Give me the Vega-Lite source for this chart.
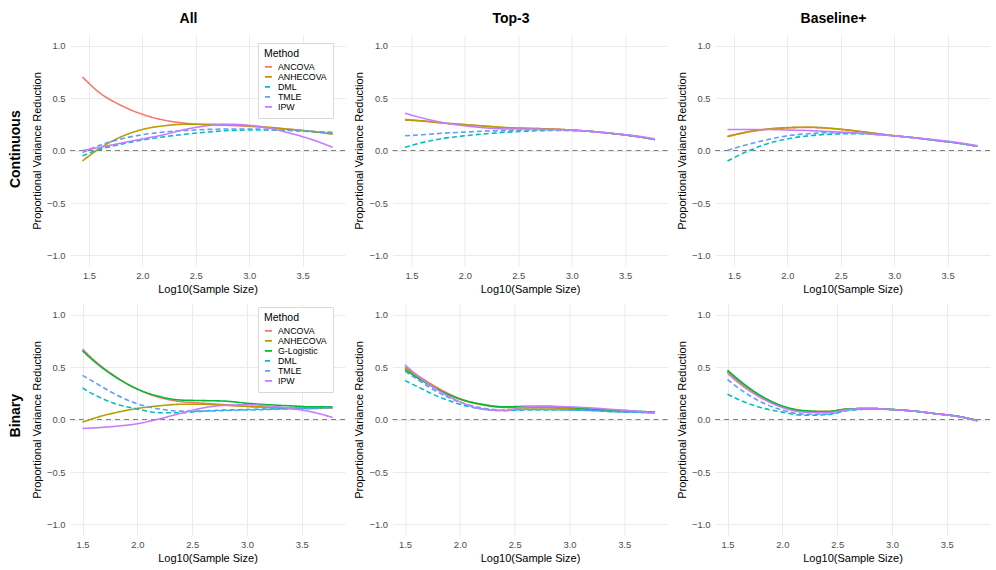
{
  "$schema": "https://vega.github.io/schema/vega-lite/v6.json",
  "padding": {"left": 9, "right": 5, "top": 12, "bottom": 4},
  "background": "white",
  "config": {
    "font": "Liberation Sans",
    "view": {"stroke": null},
    "axis": {"domain": false, "ticks": false, "grid": true, "gridColor": "#EBEBEB", "gridWidth": 1, "labelFont": "Liberation Sans", "labelFontSize": 9.4, "labelColor": "#4D4D4D", "labelPadding": 5, "titleFont": "Liberation Sans", "titleFontSize": 11, "titleFontWeight": "normal", "titleColor": "#000000", "titlePadding": 4},
    "legend": {"titleFont": "Liberation Sans", "titleFontSize": 10.5, "titleFontWeight": "normal", "titleColor": "#000000", "labelFont": "Liberation Sans", "labelFontSize": 8.8, "labelColor": "#000000", "symbolType": "stroke", "symbolSize": 49, "symbolStrokeWidth": 1.6, "fillColor": "#FFFFFF", "strokeColor": "#D9D9D9", "padding": 6, "rowPadding": 0, "clipHeight": 8.7, "labelOffset": 5, "titlePadding": 3},
    "title": {"font": "Liberation Sans", "fontSize": 14, "fontWeight": "bold", "color": "#000000", "anchor": "middle", "frame": "bounds", "offset": 9}
  },
  "datasets": {
    "cont_all": [
      {"Method": "ANCOVA", "x": 1.44, "y": 0.70}, {"Method": "ANCOVA", "x": 1.6, "y": 0.55}, {"Method": "ANCOVA", "x": 1.8, "y": 0.43}, {"Method": "ANCOVA", "x": 2.0, "y": 0.345}, {"Method": "ANCOVA", "x": 2.2, "y": 0.29}, {"Method": "ANCOVA", "x": 2.4, "y": 0.26}, {"Method": "ANCOVA", "x": 2.6, "y": 0.245}, {"Method": "ANCOVA", "x": 2.8, "y": 0.24}, {"Method": "ANCOVA", "x": 3.0, "y": 0.23}, {"Method": "ANCOVA", "x": 3.2, "y": 0.215}, {"Method": "ANCOVA", "x": 3.4, "y": 0.20}, {"Method": "ANCOVA", "x": 3.6, "y": 0.18}, {"Method": "ANCOVA", "x": 3.78, "y": 0.16},
      {"Method": "ANHECOVA", "x": 1.44, "y": -0.10}, {"Method": "ANHECOVA", "x": 1.6, "y": 0.02}, {"Method": "ANHECOVA", "x": 1.8, "y": 0.13}, {"Method": "ANHECOVA", "x": 2.0, "y": 0.20}, {"Method": "ANHECOVA", "x": 2.2, "y": 0.235}, {"Method": "ANHECOVA", "x": 2.4, "y": 0.25}, {"Method": "ANHECOVA", "x": 2.6, "y": 0.25}, {"Method": "ANHECOVA", "x": 2.8, "y": 0.245}, {"Method": "ANHECOVA", "x": 3.0, "y": 0.235}, {"Method": "ANHECOVA", "x": 3.2, "y": 0.22}, {"Method": "ANHECOVA", "x": 3.4, "y": 0.20}, {"Method": "ANHECOVA", "x": 3.6, "y": 0.18}, {"Method": "ANHECOVA", "x": 3.78, "y": 0.155},
      {"Method": "DML", "x": 1.44, "y": -0.05}, {"Method": "DML", "x": 1.6, "y": 0.01}, {"Method": "DML", "x": 1.8, "y": 0.06}, {"Method": "DML", "x": 2.0, "y": 0.10}, {"Method": "DML", "x": 2.2, "y": 0.13}, {"Method": "DML", "x": 2.4, "y": 0.155}, {"Method": "DML", "x": 2.6, "y": 0.175}, {"Method": "DML", "x": 2.8, "y": 0.19}, {"Method": "DML", "x": 3.0, "y": 0.195}, {"Method": "DML", "x": 3.2, "y": 0.195}, {"Method": "DML", "x": 3.4, "y": 0.19}, {"Method": "DML", "x": 3.6, "y": 0.18}, {"Method": "DML", "x": 3.78, "y": 0.17},
      {"Method": "TMLE", "x": 1.44, "y": -0.02}, {"Method": "TMLE", "x": 1.6, "y": 0.05}, {"Method": "TMLE", "x": 1.8, "y": 0.11}, {"Method": "TMLE", "x": 2.0, "y": 0.15}, {"Method": "TMLE", "x": 2.2, "y": 0.175}, {"Method": "TMLE", "x": 2.4, "y": 0.19}, {"Method": "TMLE", "x": 2.6, "y": 0.20}, {"Method": "TMLE", "x": 2.8, "y": 0.205}, {"Method": "TMLE", "x": 3.0, "y": 0.205}, {"Method": "TMLE", "x": 3.2, "y": 0.20}, {"Method": "TMLE", "x": 3.4, "y": 0.19}, {"Method": "TMLE", "x": 3.6, "y": 0.18}, {"Method": "TMLE", "x": 3.78, "y": 0.17},
      {"Method": "IPW", "x": 1.44, "y": 0.0}, {"Method": "IPW", "x": 1.6, "y": 0.03}, {"Method": "IPW", "x": 1.8, "y": 0.07}, {"Method": "IPW", "x": 2.0, "y": 0.11}, {"Method": "IPW", "x": 2.2, "y": 0.15}, {"Method": "IPW", "x": 2.4, "y": 0.20}, {"Method": "IPW", "x": 2.6, "y": 0.235}, {"Method": "IPW", "x": 2.8, "y": 0.25}, {"Method": "IPW", "x": 3.0, "y": 0.24}, {"Method": "IPW", "x": 3.2, "y": 0.21}, {"Method": "IPW", "x": 3.4, "y": 0.16}, {"Method": "IPW", "x": 3.6, "y": 0.10}, {"Method": "IPW", "x": 3.78, "y": 0.03}
    ],
    "cont_top3": [
      {"Method": "ANCOVA", "x": 1.44, "y": 0.29}, {"Method": "ANCOVA", "x": 1.6, "y": 0.28}, {"Method": "ANCOVA", "x": 1.8, "y": 0.26}, {"Method": "ANCOVA", "x": 2.0, "y": 0.245}, {"Method": "ANCOVA", "x": 2.2, "y": 0.23}, {"Method": "ANCOVA", "x": 2.4, "y": 0.215}, {"Method": "ANCOVA", "x": 2.6, "y": 0.21}, {"Method": "ANCOVA", "x": 2.8, "y": 0.205}, {"Method": "ANCOVA", "x": 3.0, "y": 0.195}, {"Method": "ANCOVA", "x": 3.2, "y": 0.18}, {"Method": "ANCOVA", "x": 3.4, "y": 0.16}, {"Method": "ANCOVA", "x": 3.6, "y": 0.135}, {"Method": "ANCOVA", "x": 3.78, "y": 0.105},
      {"Method": "ANHECOVA", "x": 1.44, "y": 0.295}, {"Method": "ANHECOVA", "x": 1.6, "y": 0.283}, {"Method": "ANHECOVA", "x": 1.8, "y": 0.263}, {"Method": "ANHECOVA", "x": 2.0, "y": 0.247}, {"Method": "ANHECOVA", "x": 2.2, "y": 0.232}, {"Method": "ANHECOVA", "x": 2.4, "y": 0.218}, {"Method": "ANHECOVA", "x": 2.6, "y": 0.211}, {"Method": "ANHECOVA", "x": 2.8, "y": 0.205}, {"Method": "ANHECOVA", "x": 3.0, "y": 0.195}, {"Method": "ANHECOVA", "x": 3.2, "y": 0.18}, {"Method": "ANHECOVA", "x": 3.4, "y": 0.16}, {"Method": "ANHECOVA", "x": 3.6, "y": 0.134}, {"Method": "ANHECOVA", "x": 3.78, "y": 0.103},
      {"Method": "DML", "x": 1.44, "y": 0.03}, {"Method": "DML", "x": 1.6, "y": 0.075}, {"Method": "DML", "x": 1.8, "y": 0.115}, {"Method": "DML", "x": 2.0, "y": 0.14}, {"Method": "DML", "x": 2.2, "y": 0.16}, {"Method": "DML", "x": 2.4, "y": 0.175}, {"Method": "DML", "x": 2.6, "y": 0.185}, {"Method": "DML", "x": 2.8, "y": 0.19}, {"Method": "DML", "x": 3.0, "y": 0.19}, {"Method": "DML", "x": 3.2, "y": 0.18}, {"Method": "DML", "x": 3.4, "y": 0.16}, {"Method": "DML", "x": 3.6, "y": 0.135}, {"Method": "DML", "x": 3.78, "y": 0.105},
      {"Method": "TMLE", "x": 1.44, "y": 0.14}, {"Method": "TMLE", "x": 1.6, "y": 0.15}, {"Method": "TMLE", "x": 1.8, "y": 0.165}, {"Method": "TMLE", "x": 2.0, "y": 0.175}, {"Method": "TMLE", "x": 2.2, "y": 0.185}, {"Method": "TMLE", "x": 2.4, "y": 0.19}, {"Method": "TMLE", "x": 2.6, "y": 0.195}, {"Method": "TMLE", "x": 2.8, "y": 0.195}, {"Method": "TMLE", "x": 3.0, "y": 0.19}, {"Method": "TMLE", "x": 3.2, "y": 0.18}, {"Method": "TMLE", "x": 3.4, "y": 0.16}, {"Method": "TMLE", "x": 3.6, "y": 0.135}, {"Method": "TMLE", "x": 3.78, "y": 0.105},
      {"Method": "IPW", "x": 1.44, "y": 0.355}, {"Method": "IPW", "x": 1.6, "y": 0.31}, {"Method": "IPW", "x": 1.8, "y": 0.265}, {"Method": "IPW", "x": 2.0, "y": 0.235}, {"Method": "IPW", "x": 2.2, "y": 0.215}, {"Method": "IPW", "x": 2.4, "y": 0.205}, {"Method": "IPW", "x": 2.6, "y": 0.205}, {"Method": "IPW", "x": 2.8, "y": 0.20}, {"Method": "IPW", "x": 3.0, "y": 0.195}, {"Method": "IPW", "x": 3.2, "y": 0.18}, {"Method": "IPW", "x": 3.4, "y": 0.16}, {"Method": "IPW", "x": 3.6, "y": 0.14}, {"Method": "IPW", "x": 3.78, "y": 0.11}
    ],
    "cont_base": [
      {"Method": "ANCOVA", "x": 1.44, "y": 0.13}, {"Method": "ANCOVA", "x": 1.6, "y": 0.17}, {"Method": "ANCOVA", "x": 1.8, "y": 0.20}, {"Method": "ANCOVA", "x": 2.0, "y": 0.215}, {"Method": "ANCOVA", "x": 2.2, "y": 0.22}, {"Method": "ANCOVA", "x": 2.4, "y": 0.21}, {"Method": "ANCOVA", "x": 2.6, "y": 0.19}, {"Method": "ANCOVA", "x": 2.8, "y": 0.165}, {"Method": "ANCOVA", "x": 3.0, "y": 0.14}, {"Method": "ANCOVA", "x": 3.2, "y": 0.12}, {"Method": "ANCOVA", "x": 3.4, "y": 0.095}, {"Method": "ANCOVA", "x": 3.6, "y": 0.07}, {"Method": "ANCOVA", "x": 3.78, "y": 0.04},
      {"Method": "ANHECOVA", "x": 1.44, "y": 0.135}, {"Method": "ANHECOVA", "x": 1.6, "y": 0.172}, {"Method": "ANHECOVA", "x": 1.8, "y": 0.203}, {"Method": "ANHECOVA", "x": 2.0, "y": 0.218}, {"Method": "ANHECOVA", "x": 2.2, "y": 0.222}, {"Method": "ANHECOVA", "x": 2.4, "y": 0.212}, {"Method": "ANHECOVA", "x": 2.6, "y": 0.192}, {"Method": "ANHECOVA", "x": 2.8, "y": 0.166}, {"Method": "ANHECOVA", "x": 3.0, "y": 0.141}, {"Method": "ANHECOVA", "x": 3.2, "y": 0.12}, {"Method": "ANHECOVA", "x": 3.4, "y": 0.095}, {"Method": "ANHECOVA", "x": 3.6, "y": 0.07}, {"Method": "ANHECOVA", "x": 3.78, "y": 0.04},
      {"Method": "DML", "x": 1.44, "y": -0.10}, {"Method": "DML", "x": 1.6, "y": -0.02}, {"Method": "DML", "x": 1.8, "y": 0.06}, {"Method": "DML", "x": 2.0, "y": 0.11}, {"Method": "DML", "x": 2.2, "y": 0.14}, {"Method": "DML", "x": 2.4, "y": 0.155}, {"Method": "DML", "x": 2.6, "y": 0.16}, {"Method": "DML", "x": 2.8, "y": 0.155}, {"Method": "DML", "x": 3.0, "y": 0.14}, {"Method": "DML", "x": 3.2, "y": 0.12}, {"Method": "DML", "x": 3.4, "y": 0.095}, {"Method": "DML", "x": 3.6, "y": 0.07}, {"Method": "DML", "x": 3.78, "y": 0.04},
      {"Method": "TMLE", "x": 1.44, "y": 0.0}, {"Method": "TMLE", "x": 1.6, "y": 0.05}, {"Method": "TMLE", "x": 1.8, "y": 0.10}, {"Method": "TMLE", "x": 2.0, "y": 0.14}, {"Method": "TMLE", "x": 2.2, "y": 0.16}, {"Method": "TMLE", "x": 2.4, "y": 0.17}, {"Method": "TMLE", "x": 2.6, "y": 0.17}, {"Method": "TMLE", "x": 2.8, "y": 0.16}, {"Method": "TMLE", "x": 3.0, "y": 0.14}, {"Method": "TMLE", "x": 3.2, "y": 0.12}, {"Method": "TMLE", "x": 3.4, "y": 0.095}, {"Method": "TMLE", "x": 3.6, "y": 0.07}, {"Method": "TMLE", "x": 3.78, "y": 0.04},
      {"Method": "IPW", "x": 1.44, "y": 0.20}, {"Method": "IPW", "x": 1.6, "y": 0.20}, {"Method": "IPW", "x": 1.8, "y": 0.20}, {"Method": "IPW", "x": 2.0, "y": 0.195}, {"Method": "IPW", "x": 2.2, "y": 0.19}, {"Method": "IPW", "x": 2.4, "y": 0.18}, {"Method": "IPW", "x": 2.6, "y": 0.17}, {"Method": "IPW", "x": 2.8, "y": 0.155}, {"Method": "IPW", "x": 3.0, "y": 0.14}, {"Method": "IPW", "x": 3.2, "y": 0.12}, {"Method": "IPW", "x": 3.4, "y": 0.10}, {"Method": "IPW", "x": 3.6, "y": 0.075}, {"Method": "IPW", "x": 3.78, "y": 0.045}
    ],
    "bin_all": [
      {"Method": "ANCOVA", "x": 1.5, "y": 0.67}, {"Method": "ANCOVA", "x": 1.6, "y": 0.57}, {"Method": "ANCOVA", "x": 1.8, "y": 0.41}, {"Method": "ANCOVA", "x": 2.0, "y": 0.29}, {"Method": "ANCOVA", "x": 2.2, "y": 0.21}, {"Method": "ANCOVA", "x": 2.4, "y": 0.17}, {"Method": "ANCOVA", "x": 2.6, "y": 0.155}, {"Method": "ANCOVA", "x": 2.8, "y": 0.14}, {"Method": "ANCOVA", "x": 3.0, "y": 0.125}, {"Method": "ANCOVA", "x": 3.2, "y": 0.115}, {"Method": "ANCOVA", "x": 3.4, "y": 0.11}, {"Method": "ANCOVA", "x": 3.6, "y": 0.11}, {"Method": "ANCOVA", "x": 3.78, "y": 0.11},
      {"Method": "ANHECOVA", "x": 1.5, "y": -0.025}, {"Method": "ANHECOVA", "x": 1.6, "y": 0.01}, {"Method": "ANHECOVA", "x": 1.8, "y": 0.065}, {"Method": "ANHECOVA", "x": 2.0, "y": 0.105}, {"Method": "ANHECOVA", "x": 2.2, "y": 0.13}, {"Method": "ANHECOVA", "x": 2.4, "y": 0.145}, {"Method": "ANHECOVA", "x": 2.6, "y": 0.145}, {"Method": "ANHECOVA", "x": 2.8, "y": 0.135}, {"Method": "ANHECOVA", "x": 3.0, "y": 0.125}, {"Method": "ANHECOVA", "x": 3.2, "y": 0.115}, {"Method": "ANHECOVA", "x": 3.4, "y": 0.105}, {"Method": "ANHECOVA", "x": 3.6, "y": 0.105}, {"Method": "ANHECOVA", "x": 3.78, "y": 0.115},
      {"Method": "G-Logistic", "x": 1.5, "y": 0.655}, {"Method": "G-Logistic", "x": 1.6, "y": 0.56}, {"Method": "G-Logistic", "x": 1.8, "y": 0.405}, {"Method": "G-Logistic", "x": 2.0, "y": 0.29}, {"Method": "G-Logistic", "x": 2.2, "y": 0.22}, {"Method": "G-Logistic", "x": 2.4, "y": 0.185}, {"Method": "G-Logistic", "x": 2.6, "y": 0.18}, {"Method": "G-Logistic", "x": 2.8, "y": 0.175}, {"Method": "G-Logistic", "x": 3.0, "y": 0.155}, {"Method": "G-Logistic", "x": 3.2, "y": 0.14}, {"Method": "G-Logistic", "x": 3.4, "y": 0.13}, {"Method": "G-Logistic", "x": 3.6, "y": 0.12}, {"Method": "G-Logistic", "x": 3.78, "y": 0.12},
      {"Method": "DML", "x": 1.5, "y": 0.30}, {"Method": "DML", "x": 1.6, "y": 0.24}, {"Method": "DML", "x": 1.8, "y": 0.15}, {"Method": "DML", "x": 2.0, "y": 0.10}, {"Method": "DML", "x": 2.2, "y": 0.065}, {"Method": "DML", "x": 2.4, "y": 0.065}, {"Method": "DML", "x": 2.6, "y": 0.08}, {"Method": "DML", "x": 2.8, "y": 0.09}, {"Method": "DML", "x": 3.0, "y": 0.095}, {"Method": "DML", "x": 3.2, "y": 0.10}, {"Method": "DML", "x": 3.4, "y": 0.105}, {"Method": "DML", "x": 3.6, "y": 0.11}, {"Method": "DML", "x": 3.78, "y": 0.12},
      {"Method": "TMLE", "x": 1.5, "y": 0.42}, {"Method": "TMLE", "x": 1.6, "y": 0.36}, {"Method": "TMLE", "x": 1.8, "y": 0.24}, {"Method": "TMLE", "x": 2.0, "y": 0.15}, {"Method": "TMLE", "x": 2.2, "y": 0.10}, {"Method": "TMLE", "x": 2.4, "y": 0.08}, {"Method": "TMLE", "x": 2.6, "y": 0.08}, {"Method": "TMLE", "x": 2.8, "y": 0.085}, {"Method": "TMLE", "x": 3.0, "y": 0.09}, {"Method": "TMLE", "x": 3.2, "y": 0.095}, {"Method": "TMLE", "x": 3.4, "y": 0.10}, {"Method": "TMLE", "x": 3.6, "y": 0.105}, {"Method": "TMLE", "x": 3.78, "y": 0.11},
      {"Method": "IPW", "x": 1.5, "y": -0.085}, {"Method": "IPW", "x": 1.6, "y": -0.08}, {"Method": "IPW", "x": 1.8, "y": -0.065}, {"Method": "IPW", "x": 2.0, "y": -0.04}, {"Method": "IPW", "x": 2.2, "y": 0.005}, {"Method": "IPW", "x": 2.4, "y": 0.06}, {"Method": "IPW", "x": 2.6, "y": 0.11}, {"Method": "IPW", "x": 2.8, "y": 0.135}, {"Method": "IPW", "x": 3.0, "y": 0.14}, {"Method": "IPW", "x": 3.2, "y": 0.13}, {"Method": "IPW", "x": 3.4, "y": 0.105}, {"Method": "IPW", "x": 3.6, "y": 0.07}, {"Method": "IPW", "x": 3.78, "y": 0.02}
    ],
    "bin_top3": [
      {"Method": "ANCOVA", "x": 1.5, "y": 0.50}, {"Method": "ANCOVA", "x": 1.6, "y": 0.43}, {"Method": "ANCOVA", "x": 1.8, "y": 0.30}, {"Method": "ANCOVA", "x": 2.0, "y": 0.20}, {"Method": "ANCOVA", "x": 2.2, "y": 0.145}, {"Method": "ANCOVA", "x": 2.4, "y": 0.12}, {"Method": "ANCOVA", "x": 2.6, "y": 0.115}, {"Method": "ANCOVA", "x": 2.8, "y": 0.115}, {"Method": "ANCOVA", "x": 3.0, "y": 0.105}, {"Method": "ANCOVA", "x": 3.2, "y": 0.095}, {"Method": "ANCOVA", "x": 3.4, "y": 0.085}, {"Method": "ANCOVA", "x": 3.6, "y": 0.075}, {"Method": "ANCOVA", "x": 3.78, "y": 0.065},
      {"Method": "ANHECOVA", "x": 1.5, "y": 0.49}, {"Method": "ANHECOVA", "x": 1.6, "y": 0.42}, {"Method": "ANHECOVA", "x": 1.8, "y": 0.29}, {"Method": "ANHECOVA", "x": 2.0, "y": 0.195}, {"Method": "ANHECOVA", "x": 2.2, "y": 0.14}, {"Method": "ANHECOVA", "x": 2.4, "y": 0.115}, {"Method": "ANHECOVA", "x": 2.6, "y": 0.11}, {"Method": "ANHECOVA", "x": 2.8, "y": 0.11}, {"Method": "ANHECOVA", "x": 3.0, "y": 0.10}, {"Method": "ANHECOVA", "x": 3.2, "y": 0.09}, {"Method": "ANHECOVA", "x": 3.4, "y": 0.08}, {"Method": "ANHECOVA", "x": 3.6, "y": 0.07}, {"Method": "ANHECOVA", "x": 3.78, "y": 0.065},
      {"Method": "G-Logistic", "x": 1.5, "y": 0.475}, {"Method": "G-Logistic", "x": 1.6, "y": 0.405}, {"Method": "G-Logistic", "x": 1.8, "y": 0.285}, {"Method": "G-Logistic", "x": 2.0, "y": 0.195}, {"Method": "G-Logistic", "x": 2.2, "y": 0.145}, {"Method": "G-Logistic", "x": 2.4, "y": 0.12}, {"Method": "G-Logistic", "x": 2.6, "y": 0.125}, {"Method": "G-Logistic", "x": 2.8, "y": 0.125}, {"Method": "G-Logistic", "x": 3.0, "y": 0.115}, {"Method": "G-Logistic", "x": 3.2, "y": 0.10}, {"Method": "G-Logistic", "x": 3.4, "y": 0.09}, {"Method": "G-Logistic", "x": 3.6, "y": 0.08}, {"Method": "G-Logistic", "x": 3.78, "y": 0.07},
      {"Method": "DML", "x": 1.5, "y": 0.37}, {"Method": "DML", "x": 1.6, "y": 0.32}, {"Method": "DML", "x": 1.8, "y": 0.22}, {"Method": "DML", "x": 2.0, "y": 0.145}, {"Method": "DML", "x": 2.2, "y": 0.10}, {"Method": "DML", "x": 2.4, "y": 0.085}, {"Method": "DML", "x": 2.6, "y": 0.09}, {"Method": "DML", "x": 2.8, "y": 0.09}, {"Method": "DML", "x": 3.0, "y": 0.09}, {"Method": "DML", "x": 3.2, "y": 0.085}, {"Method": "DML", "x": 3.4, "y": 0.075}, {"Method": "DML", "x": 3.6, "y": 0.07}, {"Method": "DML", "x": 3.78, "y": 0.065},
      {"Method": "TMLE", "x": 1.5, "y": 0.46}, {"Method": "TMLE", "x": 1.6, "y": 0.39}, {"Method": "TMLE", "x": 1.8, "y": 0.26}, {"Method": "TMLE", "x": 2.0, "y": 0.165}, {"Method": "TMLE", "x": 2.2, "y": 0.11}, {"Method": "TMLE", "x": 2.4, "y": 0.09}, {"Method": "TMLE", "x": 2.6, "y": 0.095}, {"Method": "TMLE", "x": 2.8, "y": 0.095}, {"Method": "TMLE", "x": 3.0, "y": 0.09}, {"Method": "TMLE", "x": 3.2, "y": 0.085}, {"Method": "TMLE", "x": 3.4, "y": 0.075}, {"Method": "TMLE", "x": 3.6, "y": 0.07}, {"Method": "TMLE", "x": 3.78, "y": 0.065},
      {"Method": "IPW", "x": 1.5, "y": 0.52}, {"Method": "IPW", "x": 1.6, "y": 0.43}, {"Method": "IPW", "x": 1.8, "y": 0.28}, {"Method": "IPW", "x": 2.0, "y": 0.17}, {"Method": "IPW", "x": 2.2, "y": 0.10}, {"Method": "IPW", "x": 2.4, "y": 0.085}, {"Method": "IPW", "x": 2.6, "y": 0.12}, {"Method": "IPW", "x": 2.8, "y": 0.125}, {"Method": "IPW", "x": 3.0, "y": 0.12}, {"Method": "IPW", "x": 3.2, "y": 0.11}, {"Method": "IPW", "x": 3.4, "y": 0.095}, {"Method": "IPW", "x": 3.6, "y": 0.08}, {"Method": "IPW", "x": 3.78, "y": 0.06}
    ],
    "bin_base": [
      {"Method": "ANCOVA", "x": 1.5, "y": 0.46}, {"Method": "ANCOVA", "x": 1.6, "y": 0.37}, {"Method": "ANCOVA", "x": 1.8, "y": 0.225}, {"Method": "ANCOVA", "x": 2.0, "y": 0.125}, {"Method": "ANCOVA", "x": 2.2, "y": 0.08}, {"Method": "ANCOVA", "x": 2.4, "y": 0.075}, {"Method": "ANCOVA", "x": 2.6, "y": 0.10}, {"Method": "ANCOVA", "x": 2.8, "y": 0.105}, {"Method": "ANCOVA", "x": 3.0, "y": 0.095}, {"Method": "ANCOVA", "x": 3.2, "y": 0.08}, {"Method": "ANCOVA", "x": 3.4, "y": 0.055}, {"Method": "ANCOVA", "x": 3.6, "y": 0.03}, {"Method": "ANCOVA", "x": 3.78, "y": -0.01},
      {"Method": "ANHECOVA", "x": 1.5, "y": 0.455}, {"Method": "ANHECOVA", "x": 1.6, "y": 0.365}, {"Method": "ANHECOVA", "x": 1.8, "y": 0.22}, {"Method": "ANHECOVA", "x": 2.0, "y": 0.12}, {"Method": "ANHECOVA", "x": 2.2, "y": 0.08}, {"Method": "ANHECOVA", "x": 2.4, "y": 0.075}, {"Method": "ANHECOVA", "x": 2.6, "y": 0.10}, {"Method": "ANHECOVA", "x": 2.8, "y": 0.105}, {"Method": "ANHECOVA", "x": 3.0, "y": 0.095}, {"Method": "ANHECOVA", "x": 3.2, "y": 0.08}, {"Method": "ANHECOVA", "x": 3.4, "y": 0.055}, {"Method": "ANHECOVA", "x": 3.6, "y": 0.03}, {"Method": "ANHECOVA", "x": 3.78, "y": -0.01},
      {"Method": "G-Logistic", "x": 1.5, "y": 0.47}, {"Method": "G-Logistic", "x": 1.6, "y": 0.38}, {"Method": "G-Logistic", "x": 1.8, "y": 0.23}, {"Method": "G-Logistic", "x": 2.0, "y": 0.13}, {"Method": "G-Logistic", "x": 2.2, "y": 0.085}, {"Method": "G-Logistic", "x": 2.4, "y": 0.075}, {"Method": "G-Logistic", "x": 2.6, "y": 0.10}, {"Method": "G-Logistic", "x": 2.8, "y": 0.105}, {"Method": "G-Logistic", "x": 3.0, "y": 0.095}, {"Method": "G-Logistic", "x": 3.2, "y": 0.08}, {"Method": "G-Logistic", "x": 3.4, "y": 0.055}, {"Method": "G-Logistic", "x": 3.6, "y": 0.03}, {"Method": "G-Logistic", "x": 3.78, "y": -0.01},
      {"Method": "DML", "x": 1.5, "y": 0.24}, {"Method": "DML", "x": 1.6, "y": 0.19}, {"Method": "DML", "x": 1.8, "y": 0.115}, {"Method": "DML", "x": 2.0, "y": 0.07}, {"Method": "DML", "x": 2.2, "y": 0.04}, {"Method": "DML", "x": 2.4, "y": 0.045}, {"Method": "DML", "x": 2.6, "y": 0.085}, {"Method": "DML", "x": 2.8, "y": 0.10}, {"Method": "DML", "x": 3.0, "y": 0.095}, {"Method": "DML", "x": 3.2, "y": 0.08}, {"Method": "DML", "x": 3.4, "y": 0.055}, {"Method": "DML", "x": 3.6, "y": 0.03}, {"Method": "DML", "x": 3.78, "y": -0.01},
      {"Method": "TMLE", "x": 1.5, "y": 0.38}, {"Method": "TMLE", "x": 1.6, "y": 0.30}, {"Method": "TMLE", "x": 1.8, "y": 0.17}, {"Method": "TMLE", "x": 2.0, "y": 0.09}, {"Method": "TMLE", "x": 2.2, "y": 0.05}, {"Method": "TMLE", "x": 2.4, "y": 0.05}, {"Method": "TMLE", "x": 2.6, "y": 0.09}, {"Method": "TMLE", "x": 2.8, "y": 0.10}, {"Method": "TMLE", "x": 3.0, "y": 0.095}, {"Method": "TMLE", "x": 3.2, "y": 0.08}, {"Method": "TMLE", "x": 3.4, "y": 0.055}, {"Method": "TMLE", "x": 3.6, "y": 0.03}, {"Method": "TMLE", "x": 3.78, "y": -0.01},
      {"Method": "IPW", "x": 1.5, "y": 0.44}, {"Method": "IPW", "x": 1.6, "y": 0.35}, {"Method": "IPW", "x": 1.8, "y": 0.21}, {"Method": "IPW", "x": 2.0, "y": 0.115}, {"Method": "IPW", "x": 2.2, "y": 0.07}, {"Method": "IPW", "x": 2.4, "y": 0.065}, {"Method": "IPW", "x": 2.6, "y": 0.095}, {"Method": "IPW", "x": 2.8, "y": 0.105}, {"Method": "IPW", "x": 3.0, "y": 0.095}, {"Method": "IPW", "x": 3.2, "y": 0.08}, {"Method": "IPW", "x": 3.4, "y": 0.055}, {"Method": "IPW", "x": 3.6, "y": 0.03}, {"Method": "IPW", "x": 3.78, "y": -0.015}
    ]
  },
  "resolve": {"scale": {"x": "independent", "y": "independent", "color": "independent", "strokeDash": "independent"}, "legend": {"color": "independent", "strokeDash": "independent"}},
  "spacing": 9,
  "vconcat": [
    {
      "title": {"text": "Continuous", "orient": "left", "anchor": "middle", "frame": "bounds", "offset": 8, "dx": 4},
      "spacing": 7.5,
      "resolve": {"scale": {"color": "independent", "strokeDash": "independent"}, "legend": {"color": "independent", "strokeDash": "independent"}},
      "hconcat": [
        {
          "width": 275, "height": 231,
          "title": {"text": "All"},
          "layer": [
            {"data": {"values": [{}]}, "mark": {"type": "rule", "color": "#7F7F7F", "strokeDash": [5, 4], "strokeWidth": 1}, "encoding": {"y": {"datum": 0, "type": "quantitative", "scale": {"domain": [-1.1, 1.1], "nice": false}, "axis": {"title": "Proportional Variance Reduction", "values": [-1, -0.5, 0, 0.5, 1], "format": ".1f", "grid": true}}}},
            {"data": {"name": "cont_all"}, "mark": {"type": "line", "interpolate": "monotone", "strokeWidth": 1.6},
             "encoding": {
               "x": {"field": "x", "type": "quantitative", "scale": {"domain": [1.323, 3.897], "nice": false, "zero": false}, "axis": {"title": "Log10(Sample Size)", "values": [1.5, 2, 2.5, 3, 3.5], "format": ".1f", "grid": true}},
               "y": {"field": "y", "type": "quantitative", "scale": {"domain": [-1.1, 1.1], "nice": false}, "axis": {"title": "Proportional Variance Reduction", "values": [-1, -0.5, 0, 0.5, 1], "format": ".1f", "grid": true}},
               "color": {"field": "Method", "type": "nominal", "scale": {"domain": ["ANCOVA", "ANHECOVA", "DML", "TMLE", "IPW"], "range": ["#F8766D", "#B79F00", "#00BFC4", "#619CFF", "#C77CFF"]}, "legend": {"title": "Method", "orient": "none", "legendX": 188, "legendY": 8}},
               "strokeDash": {"field": "Method", "type": "nominal", "scale": {"domain": ["ANCOVA", "ANHECOVA", "DML", "TMLE", "IPW"], "range": [[1, 0], [1, 0], [5, 3], [5, 3], [1, 0]]}, "legend": {"title": "Method", "orient": "none", "legendX": 188, "legendY": 8}}
             }}
          ]
        },
        {
          "width": 275, "height": 231,
          "title": {"text": "Top-3"},
          "layer": [
            {"data": {"values": [{}]}, "mark": {"type": "rule", "color": "#7F7F7F", "strokeDash": [5, 4], "strokeWidth": 1}, "encoding": {"y": {"datum": 0, "type": "quantitative", "scale": {"domain": [-1.1, 1.1], "nice": false}, "axis": {"title": "Proportional Variance Reduction", "values": [-1, -0.5, 0, 0.5, 1], "format": ".1f", "grid": true}}}},
            {"data": {"name": "cont_top3"}, "mark": {"type": "line", "interpolate": "monotone", "strokeWidth": 1.6},
             "encoding": {
               "x": {"field": "x", "type": "quantitative", "scale": {"domain": [1.323, 3.897], "nice": false, "zero": false}, "axis": {"title": "Log10(Sample Size)", "values": [1.5, 2, 2.5, 3, 3.5], "format": ".1f", "grid": true}},
               "y": {"field": "y", "type": "quantitative", "scale": {"domain": [-1.1, 1.1], "nice": false}, "axis": {"title": "Proportional Variance Reduction", "values": [-1, -0.5, 0, 0.5, 1], "format": ".1f", "grid": true}},
               "color": {"field": "Method", "type": "nominal", "scale": {"domain": ["ANCOVA", "ANHECOVA", "DML", "TMLE", "IPW"], "range": ["#F8766D", "#B79F00", "#00BFC4", "#619CFF", "#C77CFF"]}, "legend": null},
               "strokeDash": {"field": "Method", "type": "nominal", "scale": {"domain": ["ANCOVA", "ANHECOVA", "DML", "TMLE", "IPW"], "range": [[1, 0], [1, 0], [5, 3], [5, 3], [1, 0]]}, "legend": null}
             }}
          ]
        },
        {
          "width": 275, "height": 231,
          "title": {"text": "Baseline+"},
          "layer": [
            {"data": {"values": [{}]}, "mark": {"type": "rule", "color": "#7F7F7F", "strokeDash": [5, 4], "strokeWidth": 1}, "encoding": {"y": {"datum": 0, "type": "quantitative", "scale": {"domain": [-1.1, 1.1], "nice": false}, "axis": {"title": "Proportional Variance Reduction", "values": [-1, -0.5, 0, 0.5, 1], "format": ".1f", "grid": true}}}},
            {"data": {"name": "cont_base"}, "mark": {"type": "line", "interpolate": "monotone", "strokeWidth": 1.6},
             "encoding": {
               "x": {"field": "x", "type": "quantitative", "scale": {"domain": [1.323, 3.897], "nice": false, "zero": false}, "axis": {"title": "Log10(Sample Size)", "values": [1.5, 2, 2.5, 3, 3.5], "format": ".1f", "grid": true}},
               "y": {"field": "y", "type": "quantitative", "scale": {"domain": [-1.1, 1.1], "nice": false}, "axis": {"title": "Proportional Variance Reduction", "values": [-1, -0.5, 0, 0.5, 1], "format": ".1f", "grid": true}},
               "color": {"field": "Method", "type": "nominal", "scale": {"domain": ["ANCOVA", "ANHECOVA", "DML", "TMLE", "IPW"], "range": ["#F8766D", "#B79F00", "#00BFC4", "#619CFF", "#C77CFF"]}, "legend": null},
               "strokeDash": {"field": "Method", "type": "nominal", "scale": {"domain": ["ANCOVA", "ANHECOVA", "DML", "TMLE", "IPW"], "range": [[1, 0], [1, 0], [5, 3], [5, 3], [1, 0]]}, "legend": null}
             }}
          ]
        }
      ]
    },
    {
      "title": {"text": "Binary", "orient": "left", "anchor": "middle", "frame": "bounds", "offset": 8, "dx": 18},
      "spacing": 7.5,
      "resolve": {"scale": {"color": "independent", "strokeDash": "independent"}, "legend": {"color": "independent", "strokeDash": "independent"}},
      "hconcat": [
        {
          "width": 275, "height": 231,
          "layer": [
            {"data": {"values": [{}]}, "mark": {"type": "rule", "color": "#7F7F7F", "strokeDash": [5, 4], "strokeWidth": 1}, "encoding": {"y": {"datum": 0, "type": "quantitative", "scale": {"domain": [-1.1, 1.1], "nice": false}, "axis": {"title": "Proportional Variance Reduction", "values": [-1, -0.5, 0, 0.5, 1], "format": ".1f", "grid": true}}}},
            {"data": {"name": "bin_all"}, "mark": {"type": "line", "interpolate": "monotone", "strokeWidth": 1.6},
             "encoding": {
               "x": {"field": "x", "type": "quantitative", "scale": {"domain": [1.386, 3.894], "nice": false, "zero": false}, "axis": {"title": "Log10(Sample Size)", "values": [1.5, 2, 2.5, 3, 3.5], "format": ".1f", "grid": true}},
               "y": {"field": "y", "type": "quantitative", "scale": {"domain": [-1.1, 1.1], "nice": false}, "axis": {"title": "Proportional Variance Reduction", "values": [-1, -0.5, 0, 0.5, 1], "format": ".1f", "grid": true}},
               "color": {"field": "Method", "type": "nominal", "scale": {"domain": ["ANCOVA", "ANHECOVA", "G-Logistic", "DML", "TMLE", "IPW"], "range": ["#F8766D", "#B79F00", "#00BA38", "#00BFC4", "#619CFF", "#C77CFF"]}, "legend": {"title": "Method", "orient": "none", "legendX": 188, "legendY": 3}},
               "strokeDash": {"field": "Method", "type": "nominal", "scale": {"domain": ["ANCOVA", "ANHECOVA", "G-Logistic", "DML", "TMLE", "IPW"], "range": [[1, 0], [1, 0], [1, 0], [5, 3], [5, 3], [1, 0]]}, "legend": {"title": "Method", "orient": "none", "legendX": 188, "legendY": 3}}
             }}
          ]
        },
        {
          "width": 275, "height": 231,
          "layer": [
            {"data": {"values": [{}]}, "mark": {"type": "rule", "color": "#7F7F7F", "strokeDash": [5, 4], "strokeWidth": 1}, "encoding": {"y": {"datum": 0, "type": "quantitative", "scale": {"domain": [-1.1, 1.1], "nice": false}, "axis": {"title": "Proportional Variance Reduction", "values": [-1, -0.5, 0, 0.5, 1], "format": ".1f", "grid": true}}}},
            {"data": {"name": "bin_top3"}, "mark": {"type": "line", "interpolate": "monotone", "strokeWidth": 1.6},
             "encoding": {
               "x": {"field": "x", "type": "quantitative", "scale": {"domain": [1.386, 3.894], "nice": false, "zero": false}, "axis": {"title": "Log10(Sample Size)", "values": [1.5, 2, 2.5, 3, 3.5], "format": ".1f", "grid": true}},
               "y": {"field": "y", "type": "quantitative", "scale": {"domain": [-1.1, 1.1], "nice": false}, "axis": {"title": "Proportional Variance Reduction", "values": [-1, -0.5, 0, 0.5, 1], "format": ".1f", "grid": true}},
               "color": {"field": "Method", "type": "nominal", "scale": {"domain": ["ANCOVA", "ANHECOVA", "G-Logistic", "DML", "TMLE", "IPW"], "range": ["#F8766D", "#B79F00", "#00BA38", "#00BFC4", "#619CFF", "#C77CFF"]}, "legend": null},
               "strokeDash": {"field": "Method", "type": "nominal", "scale": {"domain": ["ANCOVA", "ANHECOVA", "G-Logistic", "DML", "TMLE", "IPW"], "range": [[1, 0], [1, 0], [1, 0], [5, 3], [5, 3], [1, 0]]}, "legend": null}
             }}
          ]
        },
        {
          "width": 275, "height": 231,
          "layer": [
            {"data": {"values": [{}]}, "mark": {"type": "rule", "color": "#7F7F7F", "strokeDash": [5, 4], "strokeWidth": 1}, "encoding": {"y": {"datum": 0, "type": "quantitative", "scale": {"domain": [-1.1, 1.1], "nice": false}, "axis": {"title": "Proportional Variance Reduction", "values": [-1, -0.5, 0, 0.5, 1], "format": ".1f", "grid": true}}}},
            {"data": {"name": "bin_base"}, "mark": {"type": "line", "interpolate": "monotone", "strokeWidth": 1.6},
             "encoding": {
               "x": {"field": "x", "type": "quantitative", "scale": {"domain": [1.386, 3.894], "nice": false, "zero": false}, "axis": {"title": "Log10(Sample Size)", "values": [1.5, 2, 2.5, 3, 3.5], "format": ".1f", "grid": true}},
               "y": {"field": "y", "type": "quantitative", "scale": {"domain": [-1.1, 1.1], "nice": false}, "axis": {"title": "Proportional Variance Reduction", "values": [-1, -0.5, 0, 0.5, 1], "format": ".1f", "grid": true}},
               "color": {"field": "Method", "type": "nominal", "scale": {"domain": ["ANCOVA", "ANHECOVA", "G-Logistic", "DML", "TMLE", "IPW"], "range": ["#F8766D", "#B79F00", "#00BA38", "#00BFC4", "#619CFF", "#C77CFF"]}, "legend": null},
               "strokeDash": {"field": "Method", "type": "nominal", "scale": {"domain": ["ANCOVA", "ANHECOVA", "G-Logistic", "DML", "TMLE", "IPW"], "range": [[1, 0], [1, 0], [1, 0], [5, 3], [5, 3], [1, 0]]}, "legend": null}
             }}
          ]
        }
      ]
    }
  ]
}
